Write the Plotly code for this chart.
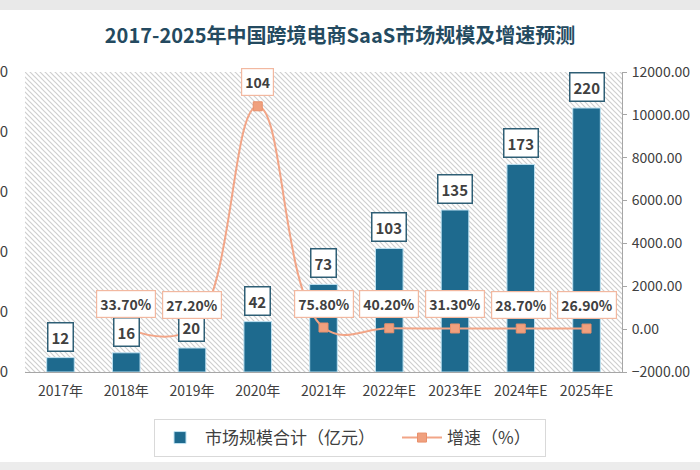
import base64
import plotly.graph_objects as go

# ---- data ----
categories = ["2017年", "2018年", "2019年", "2020年", "2021年", "2022年E", "2023年E", "2024年E", "2025年E"]
market_size = [12, 16, 20, 42, 73, 103, 135, 173, 220]          # 亿元
growth_pct = [None, 33.7, 27.2, 10400, 75.8, 40.2, 31.3, 28.7, 26.9]  # %
growth_labels = ["", "33.70%", "27.20%", "104", "75.80%", "40.20%", "31.30%", "28.70%", "26.90%"]
left_ticks = [0, 50, 100, 150, 200, 250]
right_ticks = [-2000, 0, 2000, 4000, 6000, 8000, 10000, 12000]

title = "2017-2025年中国跨境电商SaaS市场规模及增速预测"
bar_name = "市场规模合计（亿元）"
line_name = "增速（%）"

# ---- styling ----
W, H = 700, 470
ML, MR, MT, MB = 25, 78, 72, 98
PW, PH = W - ML - MR, H - MT - MB
BAR_COLOR = "#1e6a8e"
LINE_COLOR = "#f2a587"
FONT = "Noto Sans CJK SC"

hatch_svg = (
    f'<svg xmlns="http://www.w3.org/2000/svg" width="{PW}" height="{PH}">'
    '<defs><pattern id="p" width="5" height="5" patternUnits="userSpaceOnUse">'
    '<path d="M0,0 L5,5 M-1,4 L1,6 M4,-1 L6,1" stroke="#cfcfcf" stroke-width="1.2"/>'
    '</pattern></defs>'
    f'<rect width="{PW}" height="{PH}" fill="#ffffff"/>'
    f'<rect width="{PW}" height="{PH}" fill="url(#p)"/></svg>'
)
hatch_uri = "data:image/svg+xml;base64," + base64.b64encode(hatch_svg.encode()).decode()

fig = go.Figure()
fig.add_trace(go.Bar(
    x=categories, y=market_size, name=bar_name + "\u3000\u2002",
    marker=dict(color=BAR_COLOR, line=dict(color="#bfe2f2", width=1)),
    width=0.42, yaxis="y",
))
fig.add_trace(go.Scatter(
    x=categories, y=growth_pct, name=line_name + "\u2002", yaxis="y2",
    mode="lines+markers",
    line=dict(color=LINE_COLOR, width=2, shape="spline", smoothing=1.2),
    marker=dict(symbol="square", size=9, color="#f0a07e", line=dict(color="#e8906c", width=1)),
))

annotations = []
for c, v in zip(categories, market_size):
    annotations.append(dict(
        x=c, y=v, xref="x", yref="y", text=f"<b>{v}</b>", showarrow=False,
        yanchor="bottom", yshift=6, bgcolor="#ffffff", bordercolor="#2e5e75",
        borderwidth=1.5, borderpad=3, font=dict(size=15, color="#404040", family=FONT),
    ))
for c, v, t in zip(categories, growth_pct, growth_labels):
    if v is None:
        continue
    annotations.append(dict(
        x=c, y=v, xref="x", yref="y2", text=f"<b>{t}</b>", showarrow=False,
        yanchor="bottom", yshift=10, bgcolor="#ffffff", bordercolor="#f2b8a0",
        borderwidth=1.2, borderpad=3, font=dict(size=14, color="#404040", family=FONT),
    ))

fig.update_layout(
    width=W, height=H,
    margin=dict(l=ML, r=MR, t=MT, b=MB, autoexpand=False),
    paper_bgcolor="#ffffff", plot_bgcolor="rgba(0,0,0,0)",
    title=dict(text=f"<b>{title}</b>", x=340 / W, xref="container", xanchor="center",
               y=1 - 36 / H, yanchor="middle",
               font=dict(size=20, color="#244a60", family=FONT)),
    font=dict(family=FONT, color="#404040"),
    showlegend=True,
    legend=dict(orientation="h", xref="container", yref="container",
                x=0.5, xanchor="center", y=1 - 419 / H, yanchor="top",
                bordercolor="#d9d9d9", borderwidth=1, bgcolor="#ffffff",
                font=dict(size=17, color="#404040", family=FONT),
                itemwidth=40),
    bargap=0.58,
    xaxis=dict(showline=True, linecolor="#a6a6a6", linewidth=1, ticks="",
               tickfont=dict(size=14, color="#404040"), ticklabelstandoff=6,
               showgrid=False),
    yaxis=dict(range=[0, 250], tickvals=left_ticks, showgrid=False, zeroline=False,
               showline=False, ticks="", tickfont=dict(size=15, color="#404040"),
               ticklabelstandoff=16, automargin=False),
    yaxis2=dict(range=[-2000, 12000], tickvals=right_ticks, tickformat=".2f", ticksuffix="%",
                overlaying="y", side="right", showgrid=False, zeroline=False,
                showline=True, linecolor="#a6a6a6", ticks="outside", ticklen=4,
                tickcolor="#a6a6a6", tickfont=dict(size=14, color="#404040"),
                ticklabelstandoff=2, automargin=False),
    annotations=annotations,
    images=[dict(source=hatch_uri, xref="paper", yref="paper", x=0, y=1,
                 sizex=1, sizey=1, sizing="stretch", xanchor="left", yanchor="top",
                 layer="below")],
    shapes=[
        dict(type="rect", xref="paper", yref="paper", x0=-ML / PW, x1=(W - ML) / PW,
             y0=(PH + MT - 10) / PH, y1=(PH + MT) / PH, fillcolor="#e9e9e9", line=dict(width=0)),
        dict(type="rect", xref="paper", yref="paper", x0=-ML / PW, x1=(W - ML) / PW,
             y0=-(MB - 0) / PH, y1=-(MB - 8) / PH, fillcolor="#ececec", line=dict(width=0)),
    ],
)

fig.write_html("out.html", config={"displayModeBar": False},
               post_script="document.body.style.margin='0';")
